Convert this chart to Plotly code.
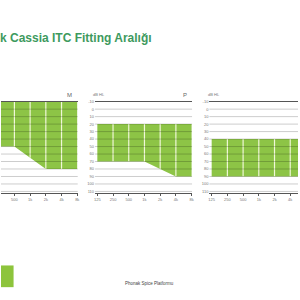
import math
import plotly.graph_objects as go

# ---------------- data ----------------
freqs = [125, 250, 500, 1000, 2000, 4000, 8000]
freq_labels = ["125", "250", "500", "1k", "2k", "4k", "8k"]
db_ticks = [-10, 0, 10, 20, 30, 40, 50, 60, 70, 80, 90, 100, 110]
db_labels = [str(t) for t in db_ticks]

receiver_names = ["M", "P", ""]
m_upper = [-10, -10, -10, -10, -10, -10, -10]
m_lower = [50, 50, 50, 65, 80, 80, 80]
p_upper = [20, 20, 20, 20, 20, 20, 20]
p_lower = [70, 70, 70, 70, 80, 90, 90]
x_upper = [40, 40, 40, 40, 40, 40, 40]
x_lower = [90, 90, 90, 90, 90, 90, 90]

title_text = "k Cassia ITC Fitting Aralığı"
footer_text = "Phonak Spice Platformu"

# ---------------- layout constants (pixels) ----------------
W = H = 300
GREEN = "rgb(141,196,70)"
OCT = 15.87                     # px per octave
panels = [
    # (domain left px, domain right px, px of 125 Hz)
    (0.0, 77.5, -18.2),
    (95.0, 193.0, 97.3),
    (210.5, 300.0, 212.8),
]
Y_TOP, Y_BOT = 100.0, 192.5
ranges = [(m_upper, m_lower), (p_upper, p_lower), (x_upper, x_lower)]

fig = go.Figure()
shapes = []
annotations = []
L125 = math.log10(freqs[0])
for i, ((a, b, p125), (up, lo)) in enumerate(zip(panels, ranges)):
    n = "" if i == 0 else str(i + 1)
    xa, ya = "x" + n, "y" + n
    fig.add_trace(go.Scatter(x=freqs, y=up, mode="lines", line=dict(width=0),
                             hoverinfo="skip", showlegend=False, xaxis=xa, yaxis=ya))
    fig.add_trace(go.Scatter(x=freqs, y=lo, mode="lines", line=dict(width=0),
                             fill="tonexty", fillcolor=GREEN,
                             hoverinfo="skip", showlegend=False, xaxis=xa, yaxis=ya))
    vx, vy = [], []
    for f, u, l in list(zip(freqs, up, lo))[1:-1]:
        vx += [f, f, None]
        vy += [u, l, None]
    fig.add_trace(go.Scatter(x=vx, y=vy, mode="lines",
                             line=dict(color="rgb(240,248,215)", width=1.2),
                             hoverinfo="skip", showlegend=False, xaxis=xa, yaxis=ya))
    r0 = L125 + (a - p125) / OCT * math.log10(2)
    r1 = L125 + (b - p125) / OCT * math.log10(2)
    fig.layout["xaxis" + n] = dict(
        type="log", domain=[a / W, b / W], range=[r0, r1], anchor=ya,
        tickvals=freqs, ticktext=freq_labels, showgrid=False, zeroline=False,
        showline=True, linecolor="#555", linewidth=1, mirror=True,
        ticks="outside", ticklen=2, tickcolor="#555",
        tickfont=dict(size=4, color="#777", family="Liberation Sans"),
    )
    fig.layout["yaxis" + n] = dict(
        domain=[1 - Y_BOT / H, 1 - Y_TOP / H], range=[112, -10], anchor=xa,
        tickvals=db_ticks, ticktext=db_labels, showgrid=False, zeroline=False,
        showticklabels=(i > 0), ticks="",
        tickfont=dict(size=4, color="#777", family="Liberation Sans"),
    )
    for t in db_ticks[1:]:
        shapes.append(dict(type="line", xref=xa + " domain", yref=ya,
                           x0=0, x1=1, y0=t, y1=t, layer="above",
                           line=dict(color="rgba(0,0,0,0.2)", width=1)))
    if i > 0:
        annotations.append(dict(text="dB HL", xref="paper", yref="paper",
                                x=(p125 - 6) / W, y=1 - 93 / H, xanchor="left",
                                yanchor="middle", showarrow=False,
                                font=dict(size=4, color="#777", family="Liberation Sans")))
    if receiver_names[i]:
        annotations.append(dict(text=receiver_names[i], xref="paper", yref="paper",
                                x=(p125 + 95.2 - 3) / W, y=1 - 93 / H,
                                xanchor="right", yanchor="middle", showarrow=False,
                                font=dict(size=6, color="#666", family="Liberation Sans")))

annotations.append(dict(text="<b>" + title_text + "</b>", xref="paper", yref="paper",
                        x=0, y=1 - 35 / H, xanchor="left", yanchor="middle",
                        showarrow=False, borderpad=0, xshift=-2,
                        font=dict(size=12, color="rgb(62,154,94)", family="Liberation Sans")))
annotations.append(dict(text=footer_text, xref="paper", yref="paper",
                        x=0.5, y=1 - 284 / H, xanchor="center", yanchor="middle",
                        showarrow=False,
                        font=dict(size=4.5, color="#444", family="Liberation Sans")))
shapes.append(dict(type="rect", xref="paper", yref="paper",
                   x0=0, x1=12.7 / W, y0=1 - 288 / H, y1=1 - 266 / H,
                   fillcolor="rgb(141,196,60)", line=dict(width=0), layer="above"))

fig.update_layout(width=W, height=H, margin=dict(l=0, r=0, t=0, b=0),
                  paper_bgcolor="white", plot_bgcolor="white",
                  shapes=shapes, annotations=annotations, showlegend=False)
fig.write_html("out.html")
